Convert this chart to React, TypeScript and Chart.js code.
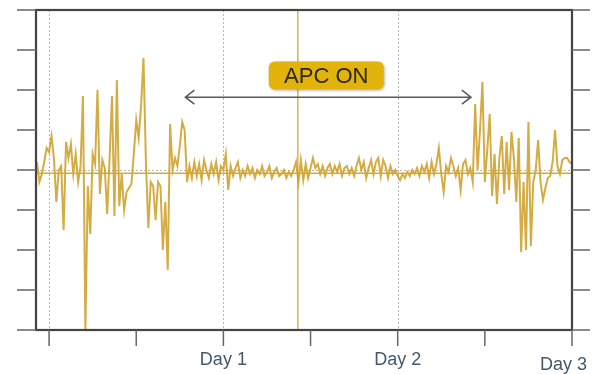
import React, { useEffect, useRef } from "react";
import { Chart, registerables } from "chart.js";

Chart.register(...registerables);

// Time axis is in days; one sample every 20 minutes (1/72 day)
const START_DAY = -5 / 72;
const STEP_DAY = 1 / 72;

// Sampled signal values (left noisy part, calm "APC ON" part, right noisy part)
const leftValues: number[] = [
  0.2, -0.3, -0.1, 0.2, 0.55, 0.45, 0.85, 0.3, -0.8, 0.0, 0.1, -1.5, 0.7, 0.3, 0.65, -0.1,
  0.4, -0.3, 0.1, 1.85, -4.0, -0.4, -1.6, 0.4, 0.15, 2.0, -0.6, 0.25, 0.05, -1.1, 0.3, 1.85,
  -1.15, 2.25, -0.9, -0.1, -1.0, -0.55, -0.45, -0.35, 0.4, 1.25, 0.8, 1.6, 2.8, 0.2, -1.45,
  -0.3, -0.4, -1.25, -0.3, -0.4, -2.0, -0.8, -2.5, 1.15, 0.0, 0.3, 0.1, 0.6, 1.2, 1.0, -0.3, 0.1,
];
const calmValues: number[] = [
  -0.2, 0.2, -0.15, 0.15, -0.25, 0.25, 0.0, -0.2, 0.15, -0.1, 0.2, -0.25, 0.1, 0.0, 0.4, -0.5,
  0.1, -0.15, 0.05, 0.2, -0.2, 0.0, -0.15, 0.1, -0.1, 0.05, -0.2, 0.0, -0.1, 0.1, -0.15, -0.05,
  0.1, -0.2, -0.05, 0.05, -0.15, -0.1, 0.0, -0.2, -0.05, -0.15, 0.0, 0.2, -0.3, 0.25, -0.25, 0.15,
  -0.2, 0.05, 0.3, 0.05, 0.15, -0.1, 0.1, -0.15, 0.05, 0.15, -0.1, 0.1, -0.05, 0.15, -0.15, 0.05,
  0.1, -0.1, 0.05, -0.15, 0.1, 0.3, 0.0, 0.2, -0.2, 0.05, 0.25, -0.1, 0.2, 0.3, -0.15, 0.25, 0.1,
  -0.2, 0.1, -0.1, 0.0, -0.15, -0.25, -0.1, -0.2, -0.05, -0.15, 0.0, -0.1, 0.05, -0.15, 0.1,
  -0.05, 0.15, -0.2, 0.2, -0.1, 0.15, 0.55, -0.1, -0.55, 0.1, -0.05, 0.3, 0.1, -0.15, 0.05, -0.5,
  0.15, 0.25, -0.1, 0.05,
];
const rightValues: number[] = [
  -0.3, 1.65, 0.0, 1.0, 2.2, -0.3, 0.5, 1.4, -0.65, 0.4, -0.85, 0.3, 0.85, -0.6, 0.7, -0.5, 0.95,
  0.3, -0.8, 0.8, -2.05, -0.3, -2.0, 1.2, -1.9, -0.3, 0.0, 0.75, -0.3, -0.75, -0.45, -0.2, -0.15,
  0.2, 1.0, 0.1, -0.1, 0.25, 0.3, 0.3, 0.2, 0.15,
];
const signal: number[] = [...leftValues, ...calmValues, ...rightValues];

const MEAN_LEVEL = -0.08;
const APC_MARK_DAY = 1.427;
const X_MIN = -0.075;
const X_MAX = 3.0;
const Y_MIN = -4;
const Y_MAX = 4;
const Y_TICKS = [-4, -3, -2, -1, 0, 1, 2, 3, 4];
const X_TICKS = [0, 0.5, 1, 1.5, 2, 2.5, 3];
const X_GRID = [0, 1, 2];
const DAY_LABELS: { day: number; text: string }[] = [
  { day: 1, text: "Day 1" },
  { day: 2, text: "Day 2" },
  { day: 3, text: "Day 3" },
];
const ANNOTATION_TEXT = "APC ON";
const ARROW_FROM = 0.782;
const ARROW_TO = 2.42;
const ARROW_LEVEL = 1.82;
const BOX_DAY = 1.59;
const BOX_LEVEL = 2.36;

const GOLD = "rgba(206,158,34,0.85)";

const decorPlugin = {
  id: "decor",
  beforeDatasetsDraw(chart: any) {
    const { ctx, chartArea: a, scales } = chart;
    const xs = scales.x;
    const ys = scales.y;
    ctx.save();
    ctx.strokeStyle = "#b8b8b8";
    ctx.lineWidth = 1;
    ctx.setLineDash([2, 2]);
    for (const d of X_GRID) {
      const x = Math.round(xs.getPixelForValue(d)) + 0.5;
      ctx.beginPath();
      ctx.moveTo(x, a.top);
      ctx.lineTo(x, a.bottom);
      ctx.stroke();
    }
    const y0 = Math.round(ys.getPixelForValue(0)) + 0.5;
    ctx.beginPath();
    ctx.moveTo(a.left, y0);
    ctx.lineTo(a.right, y0);
    ctx.stroke();
    ctx.setLineDash([]);
    ctx.strokeStyle = "rgba(214,170,60,0.9)";
    ctx.lineWidth = 1.5;
    const xm = xs.getPixelForValue(APC_MARK_DAY);
    ctx.beginPath();
    ctx.moveTo(xm, a.top);
    ctx.lineTo(xm, a.bottom);
    ctx.stroke();
    ctx.restore();
  },
  afterDatasetsDraw(chart: any) {
    const { ctx, chartArea: a, scales, width } = chart;
    const xs = scales.x;
    const ys = scales.y;
    ctx.save();
    ctx.strokeStyle = "rgba(214,168,40,0.95)";
    ctx.lineWidth = 1.5;
    const ym = ys.getPixelForValue(MEAN_LEVEL);
    ctx.beginPath();
    ctx.moveTo(a.left, ym);
    ctx.lineTo(a.right, ym);
    ctx.stroke();

    ctx.strokeStyle = "#444";
    ctx.lineWidth = 2.2;
    ctx.strokeRect(a.left, a.top, a.right - a.left, a.bottom - a.top);

    ctx.strokeStyle = "#666";
    ctx.lineWidth = 1.5;
    for (const v of Y_TICKS) {
      const y = ys.getPixelForValue(v);
      ctx.beginPath();
      ctx.moveTo(a.left - 19, y);
      ctx.lineTo(a.left, y);
      ctx.moveTo(a.right, y);
      ctx.lineTo(a.right + 18, y);
      ctx.stroke();
    }
    for (const d of X_TICKS) {
      const x = xs.getPixelForValue(d);
      ctx.beginPath();
      ctx.moveTo(x, a.bottom);
      ctx.lineTo(x, a.bottom + 16);
      ctx.stroke();
    }

    ctx.font = "18px 'Liberation Sans', Arial, sans-serif";
    ctx.fillStyle = "#44586a";
    ctx.textBaseline = "alphabetic";
    ctx.textAlign = "center";
    for (const l of DAY_LABELS) {
      let x = xs.getPixelForValue(l.day);
      const w = ctx.measureText(l.text).width;
      let yb = a.bottom + 35;
      if (x + w / 2 > width - 7) {
        x = width - 7 - w / 2;
        yb += 5;
      }
      ctx.fillText(l.text, x, yb);
    }

    const ax1 = xs.getPixelForValue(ARROW_FROM);
    const ax2 = xs.getPixelForValue(ARROW_TO);
    const ay = ys.getPixelForValue(ARROW_LEVEL);
    ctx.strokeStyle = "#5a5a5a";
    ctx.lineWidth = 1.6;
    ctx.beginPath();
    ctx.moveTo(ax1, ay);
    ctx.lineTo(ax2, ay);
    ctx.moveTo(ax1 + 9, ay - 7);
    ctx.lineTo(ax1, ay);
    ctx.lineTo(ax1 + 9, ay + 7);
    ctx.moveTo(ax2 - 9, ay - 7);
    ctx.lineTo(ax2, ay);
    ctx.lineTo(ax2 - 9, ay + 7);
    ctx.stroke();

    const bx = xs.getPixelForValue(BOX_DAY);
    const by = ys.getPixelForValue(BOX_LEVEL);
    const bw = 115;
    const bh = 28;
    ctx.shadowColor = "rgba(0,0,0,0.3)";
    ctx.shadowBlur = 3;
    ctx.shadowOffsetX = 1;
    ctx.shadowOffsetY = 1;
    ctx.fillStyle = "#e2b30a";
    ctx.beginPath();
    ctx.roundRect(bx - bw / 2, by - bh / 2, bw, bh, 6);
    ctx.fill();
    ctx.shadowColor = "transparent";
    ctx.fillStyle = "#2a2618";
    ctx.font = "22px 'Liberation Sans', Arial, sans-serif";
    ctx.textAlign = "center";
    ctx.textBaseline = "middle";
    ctx.fillText(ANNOTATION_TEXT, bx, by + 1);
    ctx.restore();
  },
};

export default function App() {
  const canvasRef = useRef<HTMLCanvasElement | null>(null);

  useEffect(() => {
    document.body.style.margin = "0";
    const canvas = canvasRef.current;
    if (!canvas) return;
    const points = signal.map((v, i) => ({ x: START_DAY + i * STEP_DAY, y: v }));
    const chart = new Chart(canvas, {
      type: "line",
      data: {
        datasets: [
          {
            data: points,
            borderColor: GOLD,
            borderWidth: 2,
            pointRadius: 0,
            tension: 0,
            fill: false,
          },
        ],
      },
      options: {
        responsive: false,
        animation: false,
        layout: { padding: { left: 36, right: 22, top: 10, bottom: 44 } },
        plugins: { legend: { display: false }, tooltip: { enabled: false } },
        scales: {
          x: { type: "linear", min: X_MIN, max: X_MAX, display: false },
          y: { type: "linear", min: Y_MIN, max: Y_MAX, display: false },
        },
      },
      plugins: [decorPlugin],
    });
    return () => chart.destroy();
  }, []);

  return (
    <div style={{ width: 594, height: 374, background: "#fff" }}>
      <canvas ref={canvasRef} width={594} height={374} />
    </div>
  );
}
